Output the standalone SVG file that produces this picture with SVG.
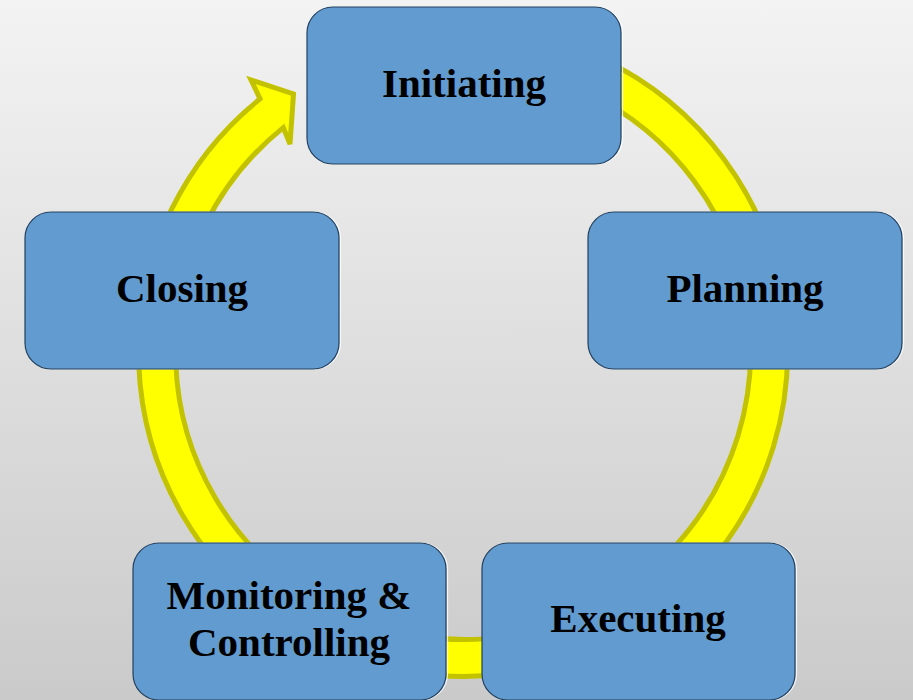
<svg xmlns="http://www.w3.org/2000/svg" width="913" height="700" viewBox="0 0 913 700">
  <defs>
    <linearGradient id="bg" x1="0" y1="0" x2="0" y2="1">
      <stop offset="0" stop-color="#F3F3F3"/>
      <stop offset="1" stop-color="#CACACA"/>
    </linearGradient>
    <style>
      .box { fill: #619BCF; stroke: #22405F; stroke-width: 1.2; }
      .hl { fill: none; stroke: #FFFFFF; stroke-width: 1.2; opacity: 0.8; }
      .lbl { font-family: "Liberation Serif", "DejaVu Serif", serif; font-weight: bold; font-size: 41px; fill: #000000; text-anchor: middle; }
      .ring { fill: #FFFF00; stroke: #C2C200; stroke-width: 5; stroke-linejoin: miter; }
    </style>
  </defs>
  <rect x="0" y="0" width="913" height="700" fill="url(#bg)"/>

  <g id="connectors">
    <path class="ring" d="M 463 27.5 A 324.5 324.5 0 1 1 260.1 98.8 L 251 80 L 293.5 94 L 290 144 L 283.3 127.6 A 287.5 287.5 0 1 0 463 64.5 Z"/>
  </g>

  <g id="initiating">
    <rect class="hl" x="308.5" y="7" width="314" height="157" rx="26"/>
    <rect class="box" x="307" y="7" width="314" height="157" rx="26"/>
    <text class="lbl" x="464" y="97">Initiating</text>
  </g>

  <g id="planning">
    <rect class="hl" x="589.5" y="212" width="314" height="157" rx="26"/>
    <rect class="box" x="588" y="212" width="314" height="157" rx="26"/>
    <text class="lbl" x="745" y="302">Planning</text>
  </g>

  <g id="executing">
    <rect class="hl" x="483.5" y="543" width="313" height="157" rx="26"/>
    <rect class="box" x="482" y="543" width="313" height="157" rx="26"/>
    <text class="lbl" x="638" y="632">Executing</text>
  </g>

  <g id="monitoring">
    <rect class="hl" x="134.5" y="543" width="313" height="157" rx="26"/>
    <rect class="box" x="133" y="543" width="313" height="157" rx="26"/>
    <text class="lbl" x="289" y="609">Monitoring &amp;</text>
    <text class="lbl" x="289" y="656">Controlling</text>
  </g>

  <g id="closing">
    <rect class="hl" x="26.5" y="212" width="314" height="157" rx="26"/>
    <rect class="box" x="25" y="212" width="314" height="157" rx="26"/>
    <text class="lbl" x="182" y="302">Closing</text>
  </g>
</svg>
